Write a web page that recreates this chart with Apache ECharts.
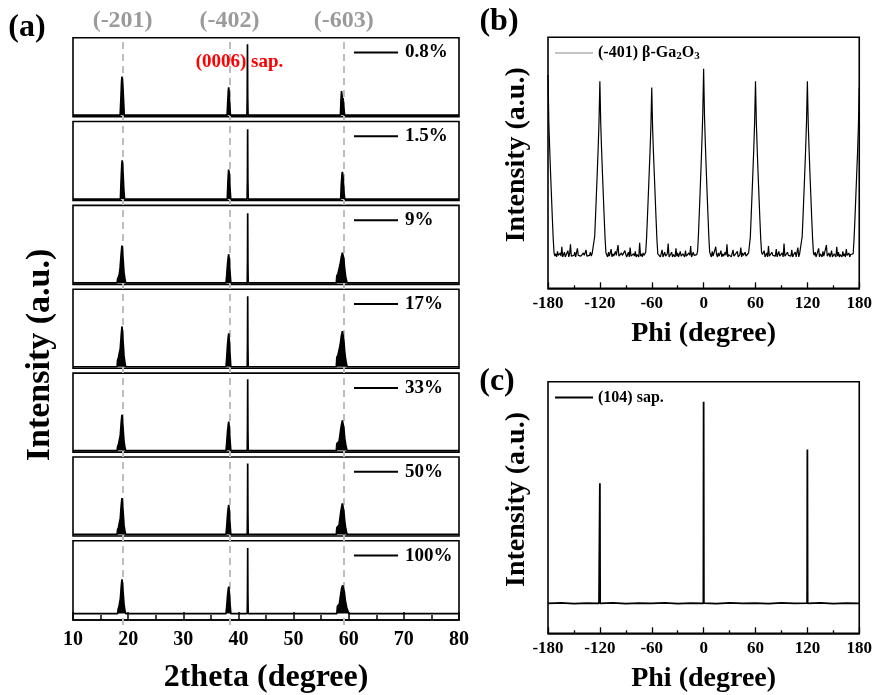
<!DOCTYPE html>
<html><head><meta charset="utf-8">
<script src="https://cdn.jsdelivr.net/npm/echarts@6/dist/echarts.min.js"></script>
<style>html,body{margin:0;padding:0;background:#fff}#c{width:875px;height:695px}</style>
</head><body><div id="c"></div>
<script>
// ================= DATA =================
// (a) 2theta scans, intensity normalised (0 = baseline, 100 = panel top)
const sampleNames = ['0.8%', '1.5%', '9%', '17%', '33%', '50%', '100%'];
const xrd_0p8 = [[10,0],[18.55,0],[18.68,20],[18.8,42],[18.88,50],[18.96,43],[19.05,37],[19.15,22],[19.3,0],
  [37.95,0],[38.07,18],[38.18,33],[38.24,36],[38.32,29],[38.42,14],[38.55,0],
  [41.55,0],[41.6,26],[41.64,91.5],[41.68,26],[41.74,0],
  [58.5,0],[58.6,20],[58.7,31],[58.78,26],[58.88,19],[58.98,22],[59.1,11],[59.25,0],[80,0]];
const xrd_1p5 = [[10,0],[18.6,0],[18.72,24],[18.85,45],[18.92,50],[19.0,44],[19.1,30],[19.22,12],[19.35,0],
  [37.98,0],[38.1,22],[38.22,38],[38.28,40],[38.36,32],[38.46,16],[38.6,0],
  [41.58,0],[41.63,26],[41.67,90],[41.71,26],[41.77,0],
  [58.55,0],[58.65,18],[58.78,32],[58.86,35],[58.95,30],[59.05,20],[59.15,8],[59.28,0],[80,0]];
const xrd_9 = [[10,0],[18.0,0],[18.08,5],[18.25,8],[18.4,11],[18.55,20],[18.72,36],[18.88,48],[18.98,41],[19.1,29],[19.25,13],[19.4,6],[19.55,0],
  [37.75,0],[37.88,10],[38.02,24],[38.15,33],[38.24,37],[38.34,30],[38.46,15],[38.62,0],
  [41.6,0],[41.64,26],[41.68,90],[41.72,26],[41.77,0],
  [57.75,0],[57.85,9],[58.05,12],[58.25,14],[58.45,24],[58.65,33],[58.85,39],[58.98,40],[59.1,32],[59.28,17],[59.45,8],[59.7,0],[80,0]];
const xrd_17 = [[10,0],[18.0,0],[18.08,8],[18.25,12],[18.42,14],[18.58,24],[18.74,40],[18.88,52],[18.98,44],[19.1,31],[19.25,14],[19.4,6],[19.55,0],
  [37.75,0],[37.88,12],[38.02,28],[38.15,38],[38.24,43],[38.34,35],[38.46,18],[38.62,0],
  [41.6,0],[41.64,27],[41.68,91],[41.72,27],[41.77,0],
  [57.75,0],[57.85,12],[58.05,15],[58.25,17],[58.45,28],[58.65,39],[58.85,46],[58.98,44],[59.1,35],[59.28,19],[59.45,9],[59.7,0],[80,0]];
const xrd_33 = [[10,0],[18.0,0],[18.08,5],[18.25,8],[18.42,9],[18.58,20],[18.74,36],[18.88,46],[18.98,39],[19.1,27],[19.25,12],[19.4,5],[19.55,0],
  [37.75,0],[37.88,10],[38.02,24],[38.15,33],[38.24,37.5],[38.34,30],[38.46,15],[38.62,0],
  [41.6,0],[41.64,27],[41.68,92],[41.72,27],[41.77,0],
  [57.75,0],[57.85,9],[58.05,11],[58.25,12],[58.45,22],[58.65,32],[58.85,39],[58.98,37],[59.1,30],[59.28,16],[59.45,8],[59.7,0],[80,0]];
const xrd_50 = [[10,0],[18.0,0],[18.08,6],[18.25,9],[18.42,10],[18.58,21],[18.74,37],[18.88,47],[18.98,40],[19.1,28],[19.25,12],[19.4,5],[19.55,0],
  [37.75,0],[37.88,10],[38.02,25],[38.15,34],[38.24,38],[38.34,31],[38.46,15],[38.62,0],
  [41.6,0],[41.64,27],[41.68,91.5],[41.72,27],[41.77,0],
  [57.75,0],[57.85,9],[58.05,11],[58.25,12],[58.45,23],[58.65,33],[58.85,40],[58.98,38],[59.1,31],[59.28,17],[59.45,8],[59.7,0],[80,0]];
const xrd_100 = [[10,0],[18.1,0],[18.18,6],[18.32,9],[18.46,10],[18.6,21],[18.75,37],[18.88,47],[18.98,40],[19.1,28],[19.25,13],[19.4,5],[19.55,0],
  [37.75,0],[37.88,10],[38.02,24],[38.15,33],[38.24,37],[38.34,30],[38.46,15],[38.62,0],
  [41.6,0],[41.64,26],[41.68,90],[41.72,26],[41.77,0],
  [57.85,0],[57.95,10],[58.1,12],[58.3,13],[58.5,24],[58.7,34],[58.9,39],[59.05,37],[59.2,30],[59.4,17],[59.65,8],[60.0,0],[80,0]];
const xrdSeries = [xrd_0p8, xrd_1p5, xrd_9, xrd_17, xrd_33, xrd_50, xrd_100];
const peakPositions = [19.0, 38.4, 59.1];
const peakLabels = ['(-201)', '(-402)', '(-603)'];
const sapphireLabel = '(0006) sap.';

// (b) phi scan of (-401) beta-Ga2O3, sampled every 1 degree from -180
const legendB = '(-401) β-Ga2O3';
const phiStartB = -180, phiStepB = 1;
const intensityB = [
  // -180 .. -173
  272, 210, 176, 146, 118, 90, 64, 45,
  // -172 .. -128
  41, 44, 40, 47, 42, 40, 45, 41, 53, 40, 43, 46, 40, 42, 41,
  48, 40, 44, 56, 41, 40, 43, 42, 46, 40, 41, 51, 42, 40, 44,
  41, 43, 40, 45, 42, 40, 49, 41, 43, 40, 42, 46, 41, 44, 42,
  // -127 .. -113
  46, 66, 92, 120, 148, 178, 212, 264, 210, 176, 146, 118, 90, 64, 45,
  // -112 .. -68
  43, 40, 46, 41, 42, 50, 40, 44, 41, 40, 47, 42, 40, 55, 41,
  43, 40, 45, 42, 41, 40, 48, 43, 40, 42, 46, 40, 52, 41, 42,
  40, 44, 41, 47, 40, 43, 42, 40, 58, 41, 44, 40, 45, 42, 43,
  // -67 .. -53
  46, 64, 90, 118, 146, 174, 206, 256, 204, 172, 144, 116, 88, 62, 44,
  // -52 .. -8
  42, 45, 40, 41, 49, 40, 43, 46, 41, 40, 44, 57, 40, 42, 41,
  46, 40, 43, 42, 40, 51, 41, 45, 40, 42, 47, 41, 40, 44, 42,
  40, 48, 41, 43, 40, 45, 42, 54, 40, 41, 46, 42, 40, 44, 43,
  // -7 .. 7
  47, 68, 96, 124, 154, 186, 222, 280, 220, 184, 152, 122, 94, 66, 46,
  // 8 .. 52
  44, 40, 47, 41, 42, 40, 53, 43, 40, 45, 41, 42, 48, 40, 44,
  41, 40, 46, 42, 56, 40, 43, 41, 45, 40, 42, 49, 41, 40, 44,
  42, 47, 40, 41, 43, 52, 40, 45, 42, 40, 46, 41, 43, 40, 45,
  // 53 .. 67
  45, 65, 92, 120, 148, 178, 212, 264, 210, 176, 146, 118, 90, 64, 46,
  // 68 .. 112
  43, 41, 48, 40, 42, 45, 40, 54, 41, 43, 40, 46, 42, 40, 44,
  41, 50, 40, 42, 47, 41, 40, 43, 45, 40, 57, 41, 42, 40, 46,
  42, 40, 44, 41, 49, 40, 43, 42, 46, 40, 41, 52, 40, 44, 42,
  // 113 .. 127
  46, 66, 92, 120, 148, 178, 212, 264, 210, 176, 146, 118, 90, 64, 45,
  // 128 .. 172
  42, 46, 40, 43, 41, 51, 40, 44, 42, 40, 47, 41, 43, 40, 55,
  41, 42, 45, 40, 43, 48, 40, 41, 44, 42, 40, 53, 41, 46, 40,
  43, 42, 40, 47, 41, 44, 40, 50, 42, 41, 45, 40, 43, 41, 44,
  // 173 .. 180
  44, 63, 88, 116, 144, 172, 206, 256
];

// (c) phi scan of (104) sapphire
const legendC = '(104) sap.';
const phiC =       [-180, -165, -150, -135, -121, -120.3, -120, -119.7, -105, -90, -75, -60, -45, -30, -15, -0.3, 0, 0.3, 15, 30, 45, 60, 75, 90, 105, 119.7, 120, 120.3, 135, 150, 165, 180];
const intensityC = [11.9, 12.1, 11.8, 12.0, 11.9, 12.0, 59.6, 11.9, 12.1, 11.8, 12.0, 11.9, 12.1, 11.8, 12.0, 11.9, 92.0, 12.0, 11.8, 12.1, 11.9, 12.0, 11.8, 12.1, 11.9, 12.0, 73.1, 11.9, 12.1, 11.8, 12.0, 11.9];

// ================= LAYOUT / STYLE =================
const FONT = "'Liberation Serif','Times New Roman',serif";
const A_LEFT = 73, A_RIGHT = 875 - 459;
const A_TOP0 = 37.7, A_STEP = 83.85, A_H = 79, A_H_LAST = 84.3, A_BASE = 77.5;
const B_GRID = {left: 548, right: 13, top: 37.3, height: 251};
const C_GRID = {left: 548, right: 13, top: 381.7, height: 251.6};

const chart = echarts.init(document.getElementById('c'), null, {renderer: 'canvas'});

const grids = [], xAxes = [], yAxes = [], series = [], legends = [];
const gridBorder = {show: true, borderColor: '#000', borderWidth: 1.6, backgroundColor: 'transparent'};

sampleNames.forEach((name, i) => {
  const last = i === sampleNames.length - 1;
  const top = A_TOP0 + i * A_STEP;
  const h = last ? A_H_LAST : A_H;
  grids.push(Object.assign({left: A_LEFT, right: A_RIGHT, top: top, height: h}, gridBorder));
  xAxes.push({
    gridIndex: i, type: 'value', min: 10, max: 80, interval: 10,
    axisLine: {show: last, onZero: false, lineStyle: {color: '#000', width: 1.6}},
    axisTick: {show: last, inside: true, length: 8, lineStyle: {color: '#000', width: 1.5}},
    minorTick: {show: last, splitNumber: 2, length: 5, lineStyle: {color: '#000', width: 1.5}},
    axisLabel: {show: last, fontFamily: FONT, fontWeight: 'bold', fontSize: 20, color: '#000', margin: 10},
    splitLine: {show: false},
    name: last ? '2theta (degree)' : '', nameLocation: 'middle', nameGap: 42,
    nameTextStyle: {fontFamily: FONT, fontWeight: 'bold', fontSize: 32, color: '#000'}
  });
  yAxes.push({gridIndex: i, type: 'value', min: -(h - A_BASE) / A_BASE * 100, max: 100, show: false});
  series.push({
    name: name, type: 'line', xAxisIndex: i, yAxisIndex: i, data: xrdSeries[i],
    showSymbol: false, symbol: 'none', color: '#000',
    lineStyle: {color: '#000', width: 1.7},
    areaStyle: {color: '#000', opacity: 1, origin: 0},
    animation: false, z: 5
  });
  legends.push({
    data: [name], left: 354, top: top + 5.3, padding: 0, icon: 'rect',
    itemWidth: 44, itemHeight: 2, itemGap: 0, selectedMode: false,
    textStyle: {fontFamily: FONT, fontWeight: 'bold', fontSize: 19, color: '#000', padding: [0, 0, 0, 2]}
  });
});

// overlay grid for the dashed reference lines spanning all (a) panels
const ov = grids.length;
grids.push({left: A_LEFT, right: A_RIGHT, top: A_TOP0, height: 6 * A_STEP + A_H_LAST, show: false});
xAxes.push({gridIndex: ov, type: 'value', min: 10, max: 80, show: false});
yAxes.push({gridIndex: ov, type: 'value', min: 0, max: 1, show: false});
series.push({
  type: 'line', xAxisIndex: ov, yAxisIndex: ov, data: [], silent: true, z: 1,
  markLine: {
    symbol: 'none', silent: true, animation: false, z: 1,
    lineStyle: {type: [7, 5], color: '#bdbdbd', width: 2},
    label: {show: true, position: 'end', distance: 5, formatter: p => p.name,
      fontFamily: FONT, fontWeight: 'bold', fontSize: 24, color: '#9a9a9a'},
    data: peakPositions.map((v, k) => ({xAxis: v, name: peakLabels[k]}))
  }
});

// (b)
const gb = grids.length;
grids.push(Object.assign({}, B_GRID, gridBorder));
const phiAxis = (gi) => ({
  gridIndex: gi, type: 'value', min: -180, max: 180, interval: 60,
  axisLine: {show: true, onZero: false, lineStyle: {color: '#000', width: 1.6}},
  axisTick: {show: true, inside: true, length: 6, lineStyle: {color: '#000', width: 1.3}},
  minorTick: {show: true, splitNumber: 2, length: 3, lineStyle: {color: '#000', width: 1.3}},
  axisLabel: {fontFamily: FONT, fontWeight: 'bold', fontSize: 17, color: '#000', margin: 7},
  splitLine: {show: false},
  name: 'Phi (degree)', nameLocation: 'middle', nameGap: 31,
  nameTextStyle: {fontFamily: FONT, fontWeight: 'bold', fontSize: 28, color: '#000'}
});
const intAxis = (gi, max) => ({
  gridIndex: gi, type: 'value', min: 0, max: max,
  axisLine: {show: false}, axisTick: {show: false}, axisLabel: {show: false}, splitLine: {show: false},
  name: 'Intensity (a.u.)', nameLocation: 'middle', nameGap: 17,
  nameTextStyle: {fontFamily: FONT, fontWeight: 'bold', fontSize: 28, color: '#000', padding: [0, 0, 0, 16]}
});
xAxes.push(phiAxis(gb));
yAxes.push(intAxis(gb, 320));
series.push({
  name: legendB, type: 'line', xAxisIndex: gb, yAxisIndex: gb,
  data: intensityB.map((v, k) => [phiStartB + k * phiStepB, v]),
  showSymbol: false, symbol: 'none', color: '#000', lineStyle: {color: '#000', width: 1.2}, animation: false
});
legends.push({
  data: [{name: legendB, itemStyle: {color: '#8a8a8a'}}], left: 555, top: 45, padding: 0, icon: 'rect',
  itemWidth: 38, itemHeight: 1, selectedMode: false,
  formatter: () => '(-401) β-Ga{sub|2}O{sub|3}',
  textStyle: {fontFamily: FONT, fontWeight: 'bold', fontSize: 16, color: '#000', padding: [0, 0, 0, 0],
    rich: {sub: {fontFamily: FONT, fontWeight: 'bold', fontSize: 11, color: '#000', padding: [7, 0, 0, 0]}}}
});

// (c)
const gc = grids.length;
grids.push(Object.assign({}, C_GRID, gridBorder));
xAxes.push(phiAxis(gc));
yAxes.push(intAxis(gc, 100));
series.push({
  name: legendC, type: 'line', xAxisIndex: gc, yAxisIndex: gc,
  data: phiC.map((p, k) => [p, intensityC[k]]),
  showSymbol: false, symbol: 'none', color: '#000', lineStyle: {color: '#000', width: 1.8}, animation: false
});
legends.push({
  data: [legendC], left: 555, top: 389.5, padding: 0, icon: 'rect',
  itemWidth: 38, itemHeight: 2, selectedMode: false,
  textStyle: {fontFamily: FONT, fontWeight: 'bold', fontSize: 16, color: '#000'}
});

const label = (t, x, y, size, color, rot) => ({type: 'text', x: x, y: y, z: 10, silent: true, rotation: rot || 0,
  style: {text: t, font: 'bold ' + size + 'px ' + FONT, fill: color || '#000', align: 'center', verticalAlign: 'middle'}});

chart.setOption({
  animation: false,
  backgroundColor: '#fff',
  grid: grids, xAxis: xAxes, yAxis: yAxes, series: series, legend: legends,
  graphic: [
    label('(a)', 27, 28, 32),
    label('(b)', 499, 22, 32),
    label('(c)', 497, 382, 32),
    label(sapphireLabel, 239.5, 62, 19, '#ff0000'),
    label('Intensity (a.u.)', 40, 355, 34, '#000', Math.PI / 2)
  ]
});
</script></body></html>
